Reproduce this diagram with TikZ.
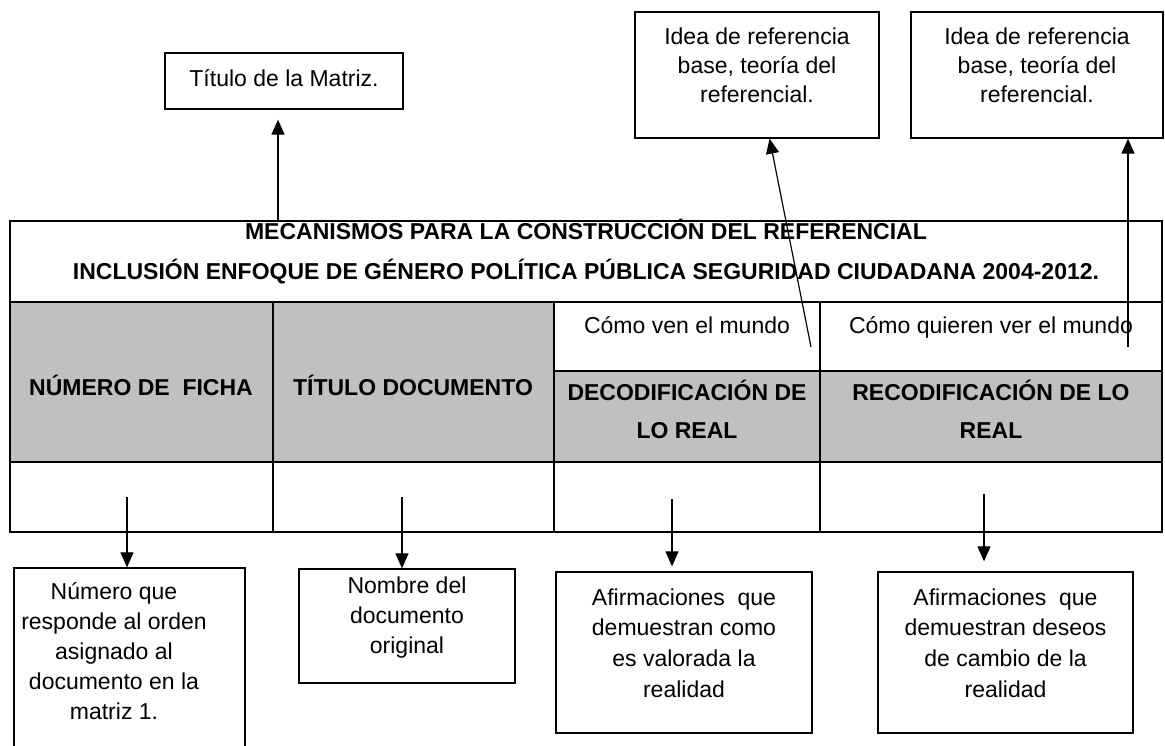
\documentclass[tikz,border=0pt]{standalone}
\usepackage{fontspec}
\setmainfont{Liberation Sans}
\usetikzlibrary{arrows.meta}
\definecolor{cellgray}{RGB}{192,192,192}
\begin{document}
\begin{tikzpicture}[x=1pt,y=-1pt,
  box/.style={draw, line width=1.3pt, rectangle, inner sep=0pt},
  txt/.style={align=center, inner sep=0pt, font=\fontsize{23}{30}\selectfont},
  hdr/.style={align=center, inner sep=0pt, font=\fontsize{23}{38}\selectfont\bfseries},
  arr/.style={line width=1.2pt, -{Triangle[length=15pt,width=13pt]}},
  tbl/.style={line width=1.8pt}]
\useasboundingbox (0,0) rectangle (1165,745);
\clip (0,0) rectangle (1165,745);
\fill[white] (0,0) rectangle (1165,745);

% ---- table ----
\fill[cellgray] (10,302) rectangle (554,462);
\fill[cellgray] (554,371) rectangle (1162,462);
\draw[tbl] (10,221) rectangle (1162,532);
\draw[tbl] (10,302) -- (1162,302);
\draw[tbl] (10,462) -- (1162,462);
\draw[tbl] (554,371) -- (1162,371);
\foreach \x in {273,554,820} \draw[tbl] (\x,302) -- (\x,532);

\node[hdr, font=\fontsize{23}{40}\selectfont\bfseries] (ttl) at (586,252)
  {MECANISMOS PARA LA CONSTRUCCIÓN DEL REFERENCIAL\\
   INCLUSIÓN ENFOQUE DE GÉNERO POLÍTICA PÚBLICA SEGURIDAD CIUDADANA 2004-2012.};
\node[hdr, anchor=base] (h1) at (141,395) {NÚMERO DE~ FICHA};
\node[hdr, anchor=base] (h2) at (413,395) {TÍTULO DOCUMENTO};
\node[txt, anchor=base] (s3) at (687,333) {Cómo ven el mundo};
\node[txt, anchor=base] (s4) at (991,333) {Cómo quieren ver el mundo};
\node[hdr] (h3) at (687,409) {DECODIFICACIÓN DE\\LO REAL};
\node[hdr] (h4) at (991,409) {RECODIFICACIÓN DE LO\\REAL};

% ---- boxes ----
\node[box, minimum width=238pt, minimum height=56pt] (T) at (284,81) {};
\node[txt, anchor=base] (Tt) at (284,86) {Título de la Matriz.};

\node[box, minimum width=244pt, minimum height=126pt] (A) at (757,75) {};
\node[txt, font=\fontsize{23}{29}\selectfont] (At) at (757,65) {Idea de referencia\\base, teoría del\\referencial.};

\node[box, minimum width=252pt, minimum height=126pt] (B) at (1037,75) {};
\node[txt, font=\fontsize{23}{29}\selectfont] (Bt) at (1037,65) {Idea de referencia\\base, teoría del\\referencial.};

\node[box, minimum width=231pt, minimum height=192pt] (b1) at (129.5,664) {};
\node[txt] (b1t) at (114,651) {Número que\\responde al orden\\asignado al\\documento en la\\matriz 1.};

\node[box, minimum width=216pt, minimum height=114pt] (b2) at (407,626) {};
\node[txt] (b2t) at (407,618) {Nombre del\\documento\\original};

\node[box, minimum width=256pt, minimum height=161pt] (b3) at (684,652.5) {};
\node[txt, font=\fontsize{23}{30.7}\selectfont] (b3t) at (684,643) {Afirmaciones~ que\\demuestran como\\es valorada la\\realidad};

\node[box, minimum width=255pt, minimum height=161pt] (b4) at (1005.5,652.5) {};
\node[txt, font=\fontsize{23}{30.7}\selectfont] (b4t) at (1005.5,643) {Afirmaciones~ que\\demuestran deseos\\de cambio de la\\realidad};

% ---- arrow start points ----
\coordinate (sT) at (278,221);
\coordinate (sA) at (811,347);
\coordinate (sB) at (1128,347);
\coordinate (s1) at (127,497);
\coordinate (s2) at (402,497);
\coordinate (s3) at (672,499);
\coordinate (s4) at (984,494);

\draw[arr, shorten >=10pt] (sT) -- (sT |- T.south);
\draw[arr] (sA) -- (A);
\draw[arr] (sB) -- (sB |- B.south);
\draw[arr] (s1) -- (s1 |- b1.north);
\draw[arr] (s2) -- (s2 |- b2.north);
\draw[arr, shorten >=5pt] (s3) -- (s3 |- b3.north);
\draw[arr, shorten >=10pt] (s4) -- (s4 |- b4.north);
\end{tikzpicture}
\end{document}
